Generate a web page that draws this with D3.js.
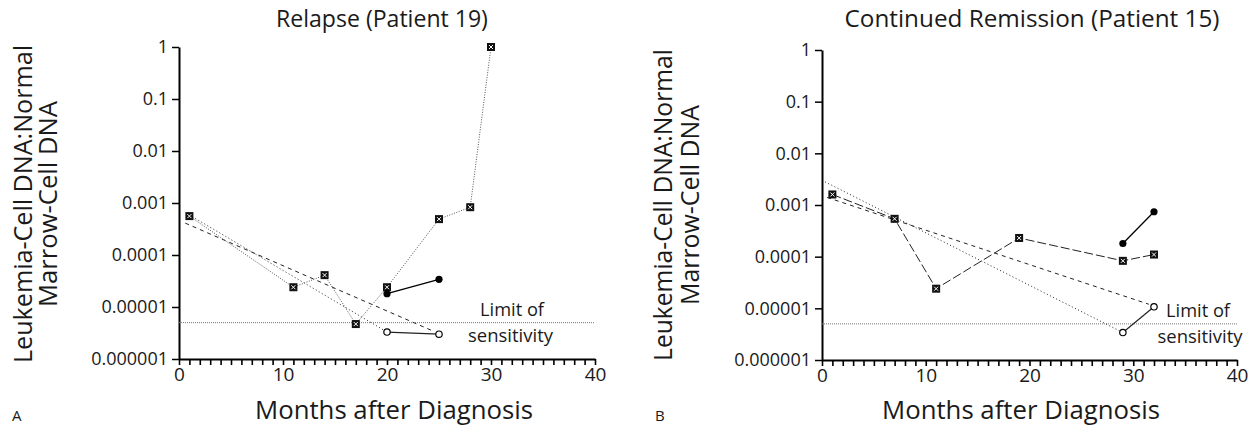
<!DOCTYPE html>
<html>
<head>
<meta charset="utf-8">
<script src="https://cdn.jsdelivr.net/npm/d3@7"></script>
<style>
  body { margin: 0; background: #fff; }
  text { font-family: "Open Sans", "Liberation Sans", Arial, sans-serif; fill: #1a1a1a; }
</style>
</head>
<body>
<svg id="chart" width="1255" height="431"></svg>
<script>
// ---------- DATA ----------
const yTickValues = [1, 0.1, 0.01, 0.001, 0.0001, 0.00001, 0.000001];
const yTickLabels = ["1", "0.1", "0.01", "0.001", "0.0001", "0.00001", "0.000001"];
const xTickLabels = [0, 10, 20, 30, 40];
const limitOfSensitivity = 0.000005;

// Panel A – Relapse (Patient 19)
const aSquareMonths = [1, 11, 14, 17, 20, 25, 28, 30];
const aSquareValues = [5.6e-4, 2.4e-5, 4.1e-5, 4.7e-6, 2.4e-5, 4.9e-4, 8.3e-4, 1];
const aFilledMonths = [20, 25];
const aFilledValues = [1.8e-5, 3.4e-5];
const aOpenMonths = [20, 25];
const aOpenValues = [3.3e-6, 3.0e-6];
const aDottedFitMonths = [0.7, 20];
const aDottedFitValues = [6.4e-4, 3.3e-6];
const aDashedFitMonths = [0.6, 24.5];
const aDashedFitValues = [4.1e-4, 3.4e-6];

// Panel B – Continued Remission (Patient 15)
const bSquareMonths = [1, 7, 11, 19, 29, 32];
const bSquareValues = [1.6e-3, 5.4e-4, 2.4e-5, 2.3e-4, 8.3e-5, 1.1e-4];
const bFilledMonths = [29, 32];
const bFilledValues = [1.8e-4, 7.4e-4];
const bOpenMonths = [29, 32];
const bOpenValues = [3.4e-6, 1.07e-5];
const bDottedFitMonths = [0.3, 29];
const bDottedFitValues = [2.8e-3, 3.4e-6];
const bDashedFitMonths = [0.5, 31.5];
const bDashedFitValues = [1.4e-3, 1.2e-5];

const zip = (xs, ys) => xs.map((x, i) => ({x, y: ys[i]}));

const panels = [
  {
    title: "Relapse (Patient 19)", letter: "A", titleX: 382, titleW: 212,
    x0: 179, x1: 595, yTop: 47, yBot: 359,
    ylab1X: 25, ylab2X: 50, ylabY: 204, ylab1W: 318, ylab2W: 206,
    xlabX: 394, xlabW: 278,
    squares: zip(aSquareMonths, aSquareValues), squareDash: "1,1.5", squareColor: "#555",
    filled: zip(aFilledMonths, aFilledValues),
    open: zip(aOpenMonths, aOpenValues),
    dotted: zip(aDottedFitMonths, aDottedFitValues),
    dashed: zip(aDashedFitMonths, aDashedFitValues),
    limit1: {x: 512, w: 64}, limit2: {x: 510.5, w: 85}
  },
  {
    title: "Continued Remission (Patient 15)", letter: "B", titleX: 1032, titleW: 375,
    x0: 822, x1: 1237, yTop: 50, yBot: 360,
    ylab1X: 665, ylab2X: 692, ylabY: 205, ylab1W: 312, ylab2W: 200,
    xlabX: 1021, xlabW: 278,
    squares: zip(bSquareMonths, bSquareValues), squareDash: "9,3", squareColor: "#222",
    filled: zip(bFilledMonths, bFilledValues),
    open: zip(bOpenMonths, bOpenValues),
    dotted: zip(bDottedFitMonths, bDottedFitValues),
    dashed: zip(bDashedFitMonths, bDashedFitValues),
    limit1: {x: 1198, w: 64}, limit2: {x: 1200, w: 85}
  }
];

const svg = d3.select("#chart");

// scale a text's font size so that its width matches the target
function fit(sel, target) {
  const n = sel.node();
  const w = n.getComputedTextLength();
  const fs = parseFloat(n.style.fontSize);
  if (w > 0) sel.style("font-size", (fs * target / w).toFixed(2) + "px");
  return sel;
}

panels.forEach(p => {
  const x = d3.scaleLinear().domain([0, 40]).range([p.x0, p.x1]);
  const y = d3.scaleLog().domain([1e-6, 1]).range([p.yBot, p.yTop]);
  const g = svg.append("g");

  // title
  fit(g.append("text").attr("x", p.titleX).attr("y", 27).attr("text-anchor", "middle")
    .style("font-size", "18px").text(p.title), p.titleW);

  // y axis
  const yAxis = d3.axisLeft(y).tickValues(yTickValues)
    .tickFormat((d, i) => yTickLabels[i]).tickSize(7).tickSizeOuter(0).tickPadding(4);
  const yg = g.append("g").attr("transform", `translate(${p.x0},0)`).call(yAxis);
  yg.select(".domain").attr("stroke", "#000").attr("stroke-width", 2);
  yg.selectAll(".tick line").attr("stroke", "#000").attr("stroke-width", 1.5);
  yg.selectAll(".tick text").style("font-size", "18px").attr("fill", "#1a1a1a")
    .attr("font-family", "Open Sans, Liberation Sans, Arial, sans-serif");

  // x axis
  const xAxis = d3.axisBottom(x).tickValues(d3.range(0, 41, 1))
    .tickFormat(d => xTickLabels.includes(d) ? String(d) : "").tickSize(6).tickSizeOuter(0).tickPadding(3);
  const xg = g.append("g").attr("transform", `translate(0,${p.yBot})`).call(xAxis);
  xg.select(".domain").attr("stroke", "#000").attr("stroke-width", 2);
  xg.selectAll(".tick line").attr("stroke", "#000").attr("stroke-width", 1.6);
  xg.selectAll(".tick text").style("font-size", "19px").attr("fill", "#1a1a1a")
    .attr("font-family", "Open Sans, Liberation Sans, Arial, sans-serif");

  // x label
  fit(g.append("text").attr("x", p.xlabX).attr("y", 419).attr("text-anchor", "middle")
    .style("font-size", "20px").text("Months after Diagnosis"), p.xlabW);
  // y label
  fit(g.append("text").attr("transform", `translate(${p.ylab1X + 7},${p.ylabY}) rotate(-90)`)
    .attr("text-anchor", "middle").style("font-size", "20px").text("Leukemia-Cell DNA:Normal"), p.ylab1W);
  fit(g.append("text").attr("transform", `translate(${p.ylab2X + 7},${p.ylabY}) rotate(-90)`)
    .attr("text-anchor", "middle").style("font-size", "20px").text("Marrow-Cell DNA"), p.ylab2W);
  // panel letter
  g.append("text").attr("x", p.letter === "A" ? 12 : 655).attr("y", 421)
    .style("font-size", "15px").text(p.letter);

  // limit of sensitivity
  g.append("line").attr("x1", p.x0).attr("x2", p.x1)
    .attr("y1", y(limitOfSensitivity)).attr("y2", y(limitOfSensitivity))
    .attr("stroke", "#777").attr("stroke-width", 1).attr("stroke-dasharray", "1,1");
  fit(g.append("text").attr("x", p.limit1.x).attr("y", y(limitOfSensitivity) - 7)
    .attr("text-anchor", "middle").style("font-size", "15px").text("Limit of"), p.limit1.w);
  fit(g.append("text").attr("x", p.limit2.x).attr("y", y(limitOfSensitivity) + 19)
    .attr("text-anchor", "middle").style("font-size", "15px").text("sensitivity"), p.limit2.w);

  const line = d3.line().x(d => x(d.x)).y(d => y(d.y));

  // fit lines
  g.append("path").attr("d", line(p.dotted)).attr("fill", "none")
    .attr("stroke", "#222").attr("stroke-width", 1).attr("stroke-dasharray", "1,2.5");
  g.append("path").attr("d", line(p.dashed)).attr("fill", "none")
    .attr("stroke", "#222").attr("stroke-width", 1).attr("stroke-dasharray", "4,4");

  // square series
  g.append("path").attr("d", line(p.squares)).attr("fill", "none")
    .attr("stroke", p.squareColor).attr("stroke-width", 1).attr("stroke-dasharray", p.squareDash);
  // filled circle series
  g.append("path").attr("d", line(p.filled)).attr("fill", "none")
    .attr("stroke", "#000").attr("stroke-width", 1.3);
  // open circle series
  g.append("path").attr("d", line(p.open)).attr("fill", "none")
    .attr("stroke", "#222").attr("stroke-width", 1.2);

  // square markers (boxed X)
  const sq = g.selectAll(".sq").data(p.squares).enter().append("g")
    .attr("transform", d => `translate(${x(d.x)},${y(d.y)})`);
  sq.append("rect").attr("x", -4).attr("y", -4).attr("width", 8).attr("height", 8).attr("fill", "#111");
  sq.append("path").attr("d", "M-2,-2L2,2M2,-2L-2,2").attr("stroke", "#fff").attr("stroke-width", 1);

  g.selectAll(".fc").data(p.filled).enter().append("circle")
    .attr("cx", d => x(d.x)).attr("cy", d => y(d.y)).attr("r", 3.6).attr("fill", "#000");
  g.selectAll(".oc").data(p.open).enter().append("circle")
    .attr("cx", d => x(d.x)).attr("cy", d => y(d.y)).attr("r", 3.2)
    .attr("fill", "#fff").attr("stroke", "#000").attr("stroke-width", 1.2);
});
</script>
</body>
</html>
